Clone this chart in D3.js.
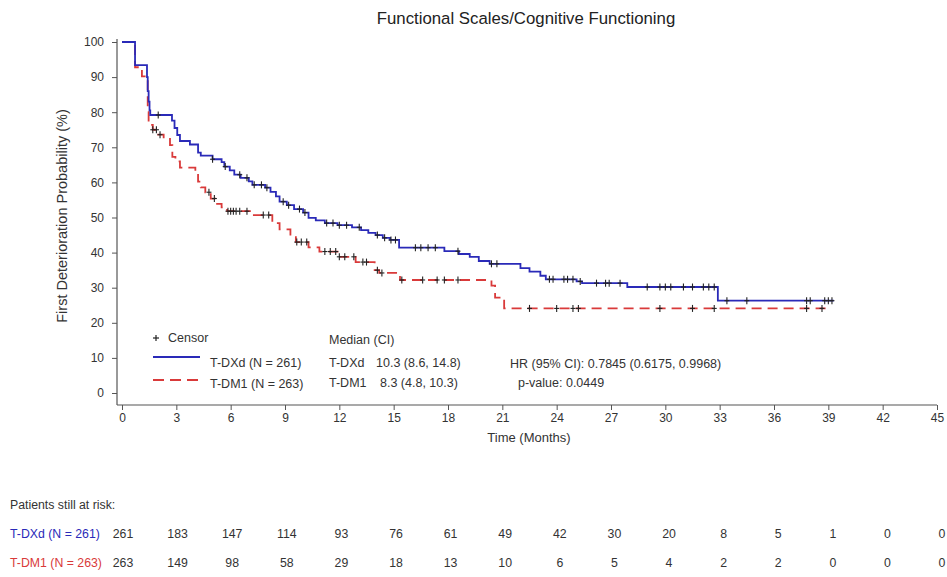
<!DOCTYPE html>
<html>
<head>
<meta charset="utf-8">
<script src="https://cdn.jsdelivr.net/npm/d3@7"></script>
<style>
  html, body { margin: 0; padding: 0; background: #fff; }
  svg { display: block; font-family: "Liberation Sans", Arial, sans-serif; }
</style>
</head>
<body>
<svg id="chart" width="947" height="577"></svg>
<script>
// Kaplan-Meier steps: [month, % without deterioration]
const dxdSteps = [
  [0,100],[0.72,93.4],[1.38,90],[1.42,86],[1.47,83],[1.52,80.5],[1.56,79.2],
  [2.76,77.6],[2.9,75.5],[3.05,73.5],[3.2,71.8],[3.75,70.8],[4.2,68.5],[4.35,67.6],
  [5.0,66.6],[5.5,65.8],[5.65,64.5],[5.95,63.4],[6.2,62.2],[6.55,61.3],[7.0,60.3],
  [7.2,59.3],[7.9,58.5],[8.2,57.3],[8.5,56],[8.7,54.5],[9.1,53.5],[9.5,52.4],
  [10.0,51.4],[10.3,49.9],[10.7,49.2],[11.2,48.4],[11.9,47.8],[12.7,47.2],[13.2,46.4],
  [13.6,45.6],[14.0,45],[14.4,44.2],[14.8,43.6],[15.3,41.4],[17.8,40.4],[18.6,39.6],
  [19.2,38.8],[19.7,37.6],[20.3,36.8],[22.0,35.6],[22.5,34.6],[23.1,33.4],[23.4,32.4],
  [25.1,31.8],[25.4,31.3],[27.9,30.2],[32.9,26.3]
];
const dxdEnd = 39.3;
const dxdCensor = [2.0,5.0,5.7,6.5,6.9,7.3,7.7,8.0,8.9,9.2,9.8,10.1,11.3,11.65,12.0,12.4,
  13.1,14.1,14.5,14.85,15.1,16.2,16.5,16.9,17.3,18.55,20.4,20.7,23.6,23.8,24.4,24.6,24.9,
  25.3,26.2,26.7,26.9,27.5,29.0,29.7,30.0,30.3,31.0,31.5,32.1,32.4,32.7,33.4,34.5,37.8,
  38.0,38.8,39.0,39.2];

const dm1Steps = [
  [0,100],[0.72,92.8],[1.1,90.2],[1.42,80],[1.47,76.4],[1.7,75],[2.0,73.6],[2.3,72.4],
  [2.65,70.6],[2.78,67.3],[2.95,66],[3.2,64.2],[4.05,62.6],[4.2,60.2],[4.35,58.6],
  [4.6,57.2],[4.9,55.4],[5.15,53.9],[5.5,52.9],[5.8,51.8],[7.2,50.7],[8.3,48.4],
  [8.7,46.6],[9.3,45.1],[9.6,43.0],[10.3,41.5],[10.9,40.3],[11.9,38.8],[12.9,37.3],
  [13.95,35.0],[14.2,34.2],[15.35,32.2],[20.4,30.6],[20.6,27.2],[21.1,24.1]
];
const dm1End = 39.0;
const dm1Censor = [1.7,1.9,2.1,4.8,5.1,5.85,6.0,6.15,6.3,6.5,6.9,7.8,8.1,9.65,9.9,10.2,
  11.2,11.5,11.8,12.0,12.3,12.8,13.3,13.5,14.1,14.35,15.45,16.6,17.4,17.8,18.55,22.5,
  24.0,24.9,25.2,29.7,31.5,32.7,37.8,38.65];

// Axis ticks
const xTicks = d3.range(0, 46, 3);
const yTicks = d3.range(0, 101, 10);

// Numbers at risk at each x tick
const riskDxd = [261,183,147,114,93,76,61,49,42,30,20,8,5,1,0,0];
const riskDm1 = [263,149,98,58,29,18,13,10,6,5,4,2,2,0,0,0];

const colDxd = "#2a2ab8";
const colDm1 = "#d93a3a";
const textCol = "#333";
const fontFam = "Liberation Sans, Arial, sans-serif";

const svg = d3.select("#chart");
const x = d3.scaleLinear().domain([0, 45]).range([122, 937]);
const y = d3.scaleLinear().domain([0, 100]).range([393, 42]);
// the at-risk columns sit a touch to the right of the axis ticks
const xRisk = d3.scaleLinear().domain([0, 45]).range([123, 942]);
const axisX0 = 117, axisY0 = 405;

// Title
svg.append("text").attr("x", 526).attr("y", 24).attr("text-anchor", "middle")
  .attr("font-size", 16.8).attr("fill", "#222").text("Functional Scales/Cognitive Functioning");

// Y axis
const gy = svg.append("g").attr("transform", `translate(${axisX0},0)`)
  .call(d3.axisLeft(y).tickValues(yTicks).tickSize(5).tickSizeOuter(0).tickPadding(8));
gy.select(".domain").remove();
gy.selectAll(".tick line").attr("stroke", "#555");
gy.selectAll(".tick text").attr("font-size", 12).attr("fill", textCol).attr("font-family", fontFam);
svg.append("line").attr("x1", axisX0).attr("x2", axisX0).attr("y1", 39).attr("y2", axisY0)
  .attr("stroke", "#555").attr("stroke-width", 1.2);

// X axis
const gx = svg.append("g").attr("transform", `translate(0,${axisY0})`)
  .call(d3.axisBottom(x).tickValues(xTicks).tickSize(5).tickSizeOuter(0).tickPadding(3));
gx.select(".domain").remove();
gx.selectAll(".tick line").attr("stroke", "#555");
gx.selectAll(".tick text").attr("font-size", 12).attr("fill", textCol).attr("font-family", fontFam);
svg.append("line").attr("x1", axisX0).attr("x2", x(45)).attr("y1", axisY0).attr("y2", axisY0)
  .attr("stroke", "#555").attr("stroke-width", 1.2);

// Axis titles
svg.append("text").attr("x", 529).attr("y", 442).attr("text-anchor", "middle")
  .attr("font-size", 13).attr("fill", textCol).text("Time (Months)");
svg.append("text").attr("transform", `translate(67,216) rotate(-90)`)
  .attr("text-anchor", "middle").attr("font-size", 14.5).attr("fill", textCol)
  .text("First Deterioration Probability (%)");

// Survival step helpers
function survAt(steps, t) {
  let v = steps[0][1];
  for (const s of steps) { if (s[0] <= t) v = s[1]; else break; }
  return v;
}
const line = d3.line().x(d => x(d[0])).y(d => y(d[1])).curve(d3.curveStepAfter);

function drawCurve(steps, endT, color, dash) {
  const pts = steps.concat([[endT, steps[steps.length - 1][1]]]);
  svg.append("path").datum(pts).attr("d", line).attr("fill", "none")
    .attr("stroke", color).attr("stroke-width", 1.8)
    .attr("stroke-dasharray", dash || null);
}
function drawCensor(steps, times) {
  const g = svg.append("g").attr("stroke", "#222").attr("stroke-width", 1.1);
  times.forEach(t => {
    const cx = x(t), cy = y(survAt(steps, t));
    g.append("line").attr("x1", cx).attr("x2", cx).attr("y1", cy - 3.5).attr("y2", cy + 3.5);
    g.append("line").attr("x1", cx - 2.5).attr("x2", cx + 2.5).attr("y1", cy).attr("y2", cy);
  });
}

drawCurve(dm1Steps, dm1End, colDm1, "10,6");
drawCurve(dxdSteps, dxdEnd, colDxd);
drawCensor(dxdSteps, dxdCensor);
drawCensor(dm1Steps, dm1Censor);

// Legend
const lg = svg.append("g").attr("font-size", 12.5).attr("fill", textCol);
const plus = svg.append("g").attr("stroke", "#222").attr("stroke-width", 1.2);
plus.append("line").attr("x1", 156).attr("x2", 156).attr("y1", 335).attr("y2", 341);
plus.append("line").attr("x1", 153).attr("x2", 159).attr("y1", 338).attr("y2", 338);
lg.append("text").attr("x", 168).attr("y", 342).text("Censor");
svg.append("line").attr("x1", 153).attr("x2", 200).attr("y1", 357).attr("y2", 357)
  .attr("stroke", colDxd).attr("stroke-width", 1.8);
lg.append("text").attr("x", 210).attr("y", 367).text("T-DXd (N = 261)");
svg.append("line").attr("x1", 153).attr("x2", 202).attr("y1", 380).attr("y2", 380)
  .attr("stroke", colDm1).attr("stroke-width", 1.8).attr("stroke-dasharray", "11,6");
lg.append("text").attr("x", 210).attr("y", 388).text("T-DM1 (N = 263)");

lg.append("text").attr("x", 329).attr("y", 344).text("Median (CI)");
lg.append("text").attr("x", 329).attr("y", 367).text("T-DXd");
lg.append("text").attr("x", 376).attr("y", 367).text("10.3 (8.6, 14.8)");
lg.append("text").attr("x", 329).attr("y", 387).text("T-DM1");
lg.append("text").attr("x", 380).attr("y", 387).text("8.3 (4.8, 10.3)");
lg.append("text").attr("x", 510).attr("y", 368).text("HR (95% CI): 0.7845 (0.6175, 0.9968)");
lg.append("text").attr("x", 518).attr("y", 387).text("p-value: 0.0449");

// Patients at risk table
const rt = svg.append("g").attr("font-size", 12.3);
rt.append("text").attr("x", 10).attr("y", 509).attr("fill", textCol).text("Patients still at risk:");
rt.append("text").attr("x", 10).attr("y", 538).attr("fill", colDxd).text("T-DXd (N = 261)");
rt.append("text").attr("x", 10).attr("y", 567).attr("fill", colDm1).text("T-DM1 (N = 263)");
rt.selectAll(".rd").data(riskDxd).join("text").attr("class", "rd")
  .attr("x", (d, i) => xRisk(xTicks[i])).attr("y", 538).attr("text-anchor", "middle")
  .attr("fill", textCol).text(d => d);
rt.selectAll(".rm").data(riskDm1).join("text").attr("class", "rm")
  .attr("x", (d, i) => xRisk(xTicks[i])).attr("y", 567).attr("text-anchor", "middle")
  .attr("fill", textCol).text(d => d);
</script>
</body>
</html>
